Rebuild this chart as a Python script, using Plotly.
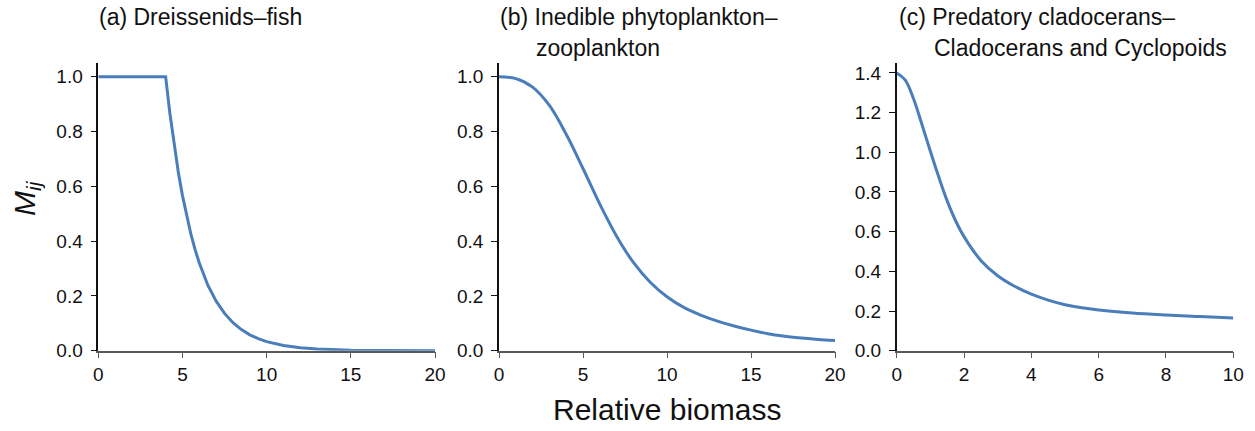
import plotly.graph_objects as go

# Panel (a) Dreissenids–fish
xa = [0, 4, 4.25, 4.5, 4.75, 5, 5.25, 5.5, 5.75, 6, 6.5, 7, 7.5, 8, 8.5, 9, 9.5, 10, 11, 12, 13, 14, 15, 17, 20]
ya = [1.0, 1.0, 0.867, 0.752, 0.652, 0.566, 0.49, 0.425, 0.369, 0.32, 0.24, 0.181, 0.136, 0.102, 0.077,
      0.058, 0.044, 0.033, 0.019, 0.011, 0.006, 0.003, 0.002, 0.001, 0.0]

# Panel (b) Inedible phytoplankton–zooplankton
xb = [0, 1, 2, 3, 4, 5, 6, 7, 8, 9, 10, 11, 12, 13, 14, 15, 16, 17, 18, 19, 20]
yb = [1.0, 0.993, 0.962, 0.895, 0.79, 0.665, 0.535, 0.418, 0.322, 0.25, 0.197, 0.158, 0.13, 0.108,
      0.09, 0.075, 0.062, 0.053, 0.046, 0.041, 0.037]

# Panel (c) Predatory cladocerans–Cladocerans and Cyclopoids
xc = [0, 0.25, 0.5, 0.75, 1.0, 1.25, 1.5, 1.75, 2.0, 2.5, 3.0, 3.5, 4.0, 4.5, 5.0, 5.5, 6.0, 7.0, 8.0, 9.0, 10.0]
yc = [1.40, 1.365, 1.27, 1.14, 1.005, 0.875, 0.755, 0.655, 0.575, 0.455, 0.378, 0.325, 0.285, 0.255,
      0.232, 0.216, 0.205, 0.19, 0.18, 0.172, 0.165]

title_lines = [
    ("(a) Dreissenids\u2013fish", None),
    ("(b) Inedible phytoplankton\u2013", "zooplankton"),
    ("(c) Predatory cladocerans\u2013", "Cladocerans and Cyclopoids"),
]

W, H = 1255, 431
FONT = "Liberation Sans, Arial, sans-serif"
LINE = "#4A7EBB"

fig = go.Figure()

panels = [
    (xa, ya, "linear", [0, 20], [0, 5, 10, 15, 20], [0, 1.05], [0, 0.2, 0.4, 0.6, 0.8, 1.0], (98.3, 435)),
    (xb, yb, "spline", [0, 20], [0, 5, 10, 15, 20], [0, 1.05], [0, 0.2, 0.4, 0.6, 0.8, 1.0], (499, 835)),
    (xc, yc, "spline", [0, 10], [0, 2, 4, 6, 8, 10], [0, 1.45], [0, 0.2, 0.4, 0.6, 0.8, 1.0, 1.2, 1.4], (896.7, 1233.3)),
]

ybot, ytop = 350.7, 63.0
ydom = [(H - ybot) / H, (H - ytop) / H]

for i, (x, y, shape, xr, xt, yr, yt, (px0, px1)) in enumerate(panels):
    n = "" if i == 0 else str(i + 1)
    fig.add_trace(go.Scatter(x=x, y=y, mode="lines", line=dict(color=LINE, width=3, shape=shape, smoothing=1.0),
                             xaxis="x" + n, yaxis="y" + n, cliponaxis=False, showlegend=False))
    dom = [px0 / W, px1 / W]
    fig.layout["xaxis" + n] = dict(domain=dom, range=xr, tickvals=xt, ticks="outside", ticklen=6,
                                   tickcolor="#595959", showline=True, linecolor="#595959", linewidth=1.5,
                                   showgrid=False, zeroline=False, anchor="y" + n, automargin=False,
                                   tickfont=dict(family=FONT, size=19, color="#111"), fixedrange=True)
    fig.layout["yaxis" + n] = dict(domain=ydom, range=yr, tickvals=yt, tickformat=".1f", ticks="outside",
                                   ticklen=6, tickcolor="#111", showline=True, linecolor="#111", linewidth=1.5,
                                   showgrid=False, zeroline=False, anchor="x" + n, automargin=False,
                                   ticklabelstandoff=4,
                                   tickfont=dict(family=FONT, size=19, color="#111"), fixedrange=True)

annotations = []
starts = [(97, None), (498, 534), (897, 932)]
for (l1, l2), (x1, x2) in zip(title_lines, starts):
    annotations.append(dict(text=l1, x=x1 / W, y=(H - 17) / H, xanchor="left", yanchor="middle"))
    if l2:
        annotations.append(dict(text=l2, x=x2 / W, y=(H - 48) / H, xanchor="left", yanchor="middle"))
for a in annotations:
    a.update(xref="paper", yref="paper", showarrow=False, align="left",
             font=dict(family=FONT, size=23, color="#111"))

annotations.append(dict(text="Relative biomass", x=667 / W, y=(H - 409) / H, xref="paper", yref="paper",
                        showarrow=False, xanchor="center", yanchor="middle",
                        font=dict(family=FONT, size=30, color="#111")))
annotations.append(dict(text="<i>M<sub>ij</sub></i>", x=27 / W, y=(H - 198) / H, xref="paper", yref="paper",
                        showarrow=False, xanchor="center", yanchor="middle", textangle=-90,
                        font=dict(family=FONT, size=30, color="#111")))

fig.update_layout(width=W, height=H, margin=dict(l=0, r=0, t=0, b=0),
                  paper_bgcolor="white", plot_bgcolor="white", annotations=annotations)

fig.write_html("out.html")
